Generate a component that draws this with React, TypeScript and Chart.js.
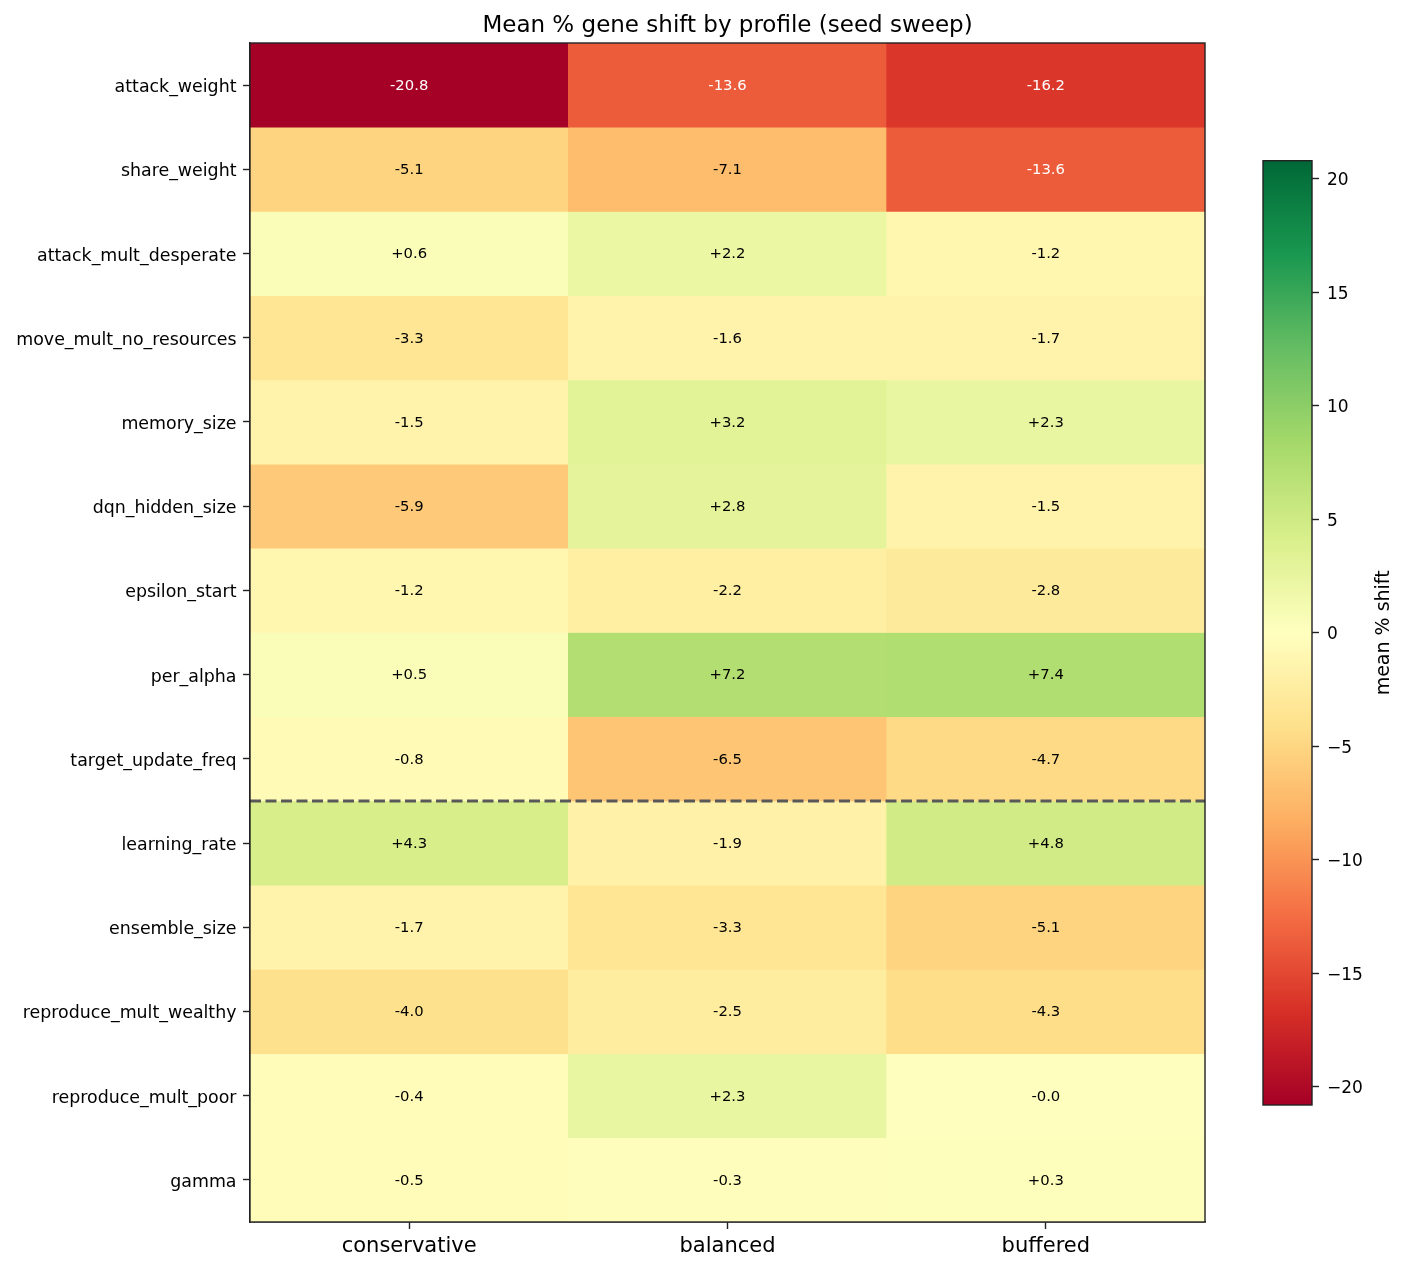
import { useEffect, useRef } from 'react';
import { Chart, registerables } from 'chart.js';

Chart.register(...registerables);

// Profiles (columns) and genes (rows) of the seed-sweep heatmap
const profiles = ['conservative', 'balanced', 'buffered'];
const genes = [
  'attack_weight',
  'share_weight',
  'attack_mult_desperate',
  'move_mult_no_resources',
  'memory_size',
  'dqn_hidden_size',
  'epsilon_start',
  'per_alpha',
  'target_update_freq',
  'learning_rate',
  'ensemble_size',
  'reproduce_mult_wealthy',
  'reproduce_mult_poor',
  'gamma',
];

// Mean % shift per gene, one array per profile (same order as genes)
const conservative = [-20.8, -5.1, 0.6, -3.3, -1.5, -5.9, -1.2, 0.5, -0.8, 4.3, -1.7, -4.0, -0.4, -0.5];
const balanced = [-13.6, -7.1, 2.2, -1.6, 3.2, 2.8, -2.2, 7.2, -6.5, -1.9, -3.3, -2.5, 2.3, -0.3];
const buffered = [-16.2, -13.6, -1.2, -1.7, 2.3, -1.5, -2.8, 7.4, -4.7, 4.8, -5.1, -4.3, -0.0, 0.3];

const colorbarTicks = [-20, -15, -10, -5, 0, 5, 10, 15, 20];
// Dashed separator sits below this gene row
const separatorAfterRow = 8;

const TITLE = 'Mean % gene shift by profile (seed sweep)';
const COLORBAR_LABEL = 'mean % shift';

const columns = [conservative, balanced, buffered];
const vlim = Math.max(...columns.flat().map((v) => Math.abs(v)));

// RdYlGn diverging palette (ColorBrewer, 11 anchors)
const RDYLGN = [
  [165, 0, 38], [215, 48, 39], [244, 109, 67], [253, 174, 97], [254, 224, 139],
  [255, 255, 191], [217, 239, 139], [166, 217, 106], [102, 189, 99], [26, 152, 80], [0, 104, 55],
];

function cmap(t: number): string {
  const x = Math.max(0, Math.min(1, t)) * 10;
  const i = Math.min(9, Math.floor(x));
  const f = x - i;
  const a = RDYLGN[i];
  const b = RDYLGN[i + 1];
  const c = a.map((ch, k) => Math.round(ch + (b[k] - ch) * f));
  return `rgb(${c[0]},${c[1]},${c[2]})`;
}

function colorFor(v: number): string {
  const t = (v + vlim) / (2 * vlim);
  const idx = Math.max(0, Math.min(255, Math.floor(t * 256)));
  return cmap(idx / 255);
}

function fmt(v: number): string {
  const sign = v > 0 || Object.is(v, 0) ? '+' : '-';
  return sign + Math.abs(v).toFixed(1);
}

const FONT = 'DejaVu Sans';
const INK = '#222222';

const cellLabels = {
  id: 'cellLabels',
  afterDatasetsDraw(chart: any) {
    const ctx = chart.ctx;
    ctx.save();
    ctx.font = `14.8px "${FONT}"`;
    ctx.textAlign = 'center';
    ctx.textBaseline = 'middle';
    genes.forEach((_, i) => {
      const meta = chart.getDatasetMeta(i);
      columns.forEach((col, j) => {
        const el = meta.data[j];
        const v = col[i];
        ctx.fillStyle = Math.abs(v) > 10 ? '#ffffff' : '#000000';
        ctx.fillText(fmt(v), el.x, (el.y + el.base) / 2 + 1);
      });
    });
    ctx.restore();
  },
};

const separator = {
  id: 'separator',
  afterDatasetsDraw(chart: any) {
    const { ctx, chartArea } = chart;
    const y = chart.scales.y.getPixelForValue(separatorAfterRow + 0.5);
    ctx.save();
    ctx.strokeStyle = '#595959';
    ctx.lineWidth = 3;
    ctx.setLineDash([11, 4.5]);
    ctx.beginPath();
    ctx.moveTo(chartArea.left, y);
    ctx.lineTo(chartArea.right, y);
    ctx.stroke();
    ctx.restore();
  },
};

const frame = {
  id: 'frame',
  afterDraw(chart: any) {
    const { ctx, chartArea } = chart;
    ctx.save();
    ctx.strokeStyle = INK;
    ctx.lineWidth = 1.4;
    ctx.strokeRect(chartArea.left, chartArea.top, chartArea.right - chartArea.left, chartArea.bottom - chartArea.top);
    ctx.restore();
  },
};

// Title centred over the heatmap cells
const heatmapTitle = {
  id: 'heatmapTitle',
  afterDraw(chart: any) {
    const { ctx, chartArea } = chart;
    ctx.save();
    ctx.font = `23px "${FONT}"`;
    ctx.fillStyle = '#000';
    ctx.textAlign = 'center';
    ctx.textBaseline = 'alphabetic';
    ctx.fillText(TITLE, (chartArea.left + chartArea.right) / 2, 32.3);
    ctx.restore();
  },
};

const colorbarLabel = {
  id: 'colorbarLabel',
  afterDraw(chart: any) {
    const { ctx, chartArea } = chart;
    ctx.save();
    ctx.translate(189, (chartArea.top + chartArea.bottom) / 2);
    ctx.rotate(-Math.PI / 2);
    ctx.font = `19px "${FONT}"`;
    ctx.fillStyle = '#000';
    ctx.textAlign = 'center';
    ctx.textBaseline = 'alphabetic';
    ctx.fillText(COLORBAR_LABEL, 0, 0);
    ctx.restore();
  },
};

export default function App() {
  const mainRef = useRef<HTMLCanvasElement>(null);
  const barRef = useRef<HTMLCanvasElement>(null);

  useEffect(() => {
    Chart.defaults.font.family = FONT;

    const main = new Chart(mainRef.current!, {
      type: 'bar',
      data: {
        labels: profiles,
        datasets: genes.map((g, i) => ({
          label: g,
          data: profiles.map(() => [i - 0.5, i + 0.5] as [number, number]),
          backgroundColor: columns.map((col) => colorFor(col[i])),
          borderWidth: 0,
          barPercentage: 1,
          categoryPercentage: 1,
          grouped: false,
        })),
      },
      options: {
        responsive: false,
        animation: false,
        events: [],
        layout: { padding: { left: 0, right: 202, top: 43, bottom: 0 } },
        plugins: {
          legend: { display: false },
          tooltip: { enabled: false },
          title: { display: false },
        },
        scales: {
          x: {
            type: 'category',
            offset: true,
            grid: { display: true, drawOnChartArea: false, drawTicks: true, tickLength: 7, tickColor: INK, tickWidth: 1.4, offset: false },
            border: { display: true, color: INK, width: 1.4 },
            ticks: { color: '#000', font: { size: 21, family: FONT }, padding: 5, autoSkip: false, maxRotation: 0 },
            afterFit: (s: any) => { s.height = 49; },
          },
          y: {
            type: 'linear',
            reverse: true,
            min: -0.5,
            max: genes.length - 0.5,
            afterBuildTicks: (s: any) => { s.ticks = genes.map((_, i) => ({ value: i })); },
            grid: { display: true, drawOnChartArea: false, drawTicks: true, tickLength: 7, tickColor: INK, tickWidth: 1.4 },
            border: { display: true, color: INK, width: 1.4 },
            ticks: {
              color: '#000',
              font: { size: 17.4, family: FONT },
              padding: 6.5,
              labelOffset: 2.5,
              autoSkip: false,
              callback: (v: any) => genes[Number(v)] ?? '',
            },
            afterFit: (s: any) => { s.width = 250; },
          },
        },
      },
      plugins: [cellLabels, separator, frame, heatmapTitle],
    });

    const cbar = new Chart(barRef.current!, {
      type: 'bar',
      data: {
        labels: [''],
        datasets: [{
          data: [[-vlim, vlim] as [number, number]],
          backgroundColor: (c: any) => {
            const area = c.chart.chartArea;
            if (!area) return '#fff';
            const g = c.chart.ctx.createLinearGradient(0, area.bottom, 0, area.top);
            RDYLGN.forEach((_, k) => g.addColorStop(k / 10, cmap(k / 10)));
            return g;
          },
          borderWidth: 0,
          barPercentage: 1,
          categoryPercentage: 1,
        }],
      },
      options: {
        responsive: false,
        animation: false,
        events: [],
        layout: { padding: { left: 63, right: 0, top: 160.7, bottom: 166 } },
        plugins: { legend: { display: false }, tooltip: { enabled: false }, title: { display: false } },
        scales: {
          x: { display: false },
          y: {
            type: 'linear',
            position: 'right',
            min: -vlim,
            max: vlim,
            afterBuildTicks: (s: any) => { s.ticks = colorbarTicks.map((v) => ({ value: v })); },
            grid: { display: true, drawOnChartArea: false, drawTicks: true, tickLength: 7, tickColor: INK, tickWidth: 1.4 },
            border: { display: false },
            ticks: {
              color: '#000',
              font: { size: 17, family: FONT },
              padding: 8,
              labelOffset: 2,
              callback: (v: any) => (Number(v) < 0 ? '\u2212' + Math.abs(Number(v)) : String(v)),
            },
            afterFit: (s: any) => { s.width = 95; },
          },
        },
      },
      plugins: [frame, colorbarLabel],
    });

    return () => {
      main.destroy();
      cbar.destroy();
    };
  }, []);

  return (
    <div style={{ position: 'absolute', left: 0, top: 0, width: 1407, height: 1271, background: '#ffffff' }}>
      <canvas ref={mainRef} width={1407} height={1271} style={{ position: 'absolute', left: 0, top: 0, width: 1407, height: 1271 }} />
      <canvas ref={barRef} width={207} height={1271} style={{ position: 'absolute', left: 1200, top: 0, width: 207, height: 1271 }} />
    </div>
  );
}
